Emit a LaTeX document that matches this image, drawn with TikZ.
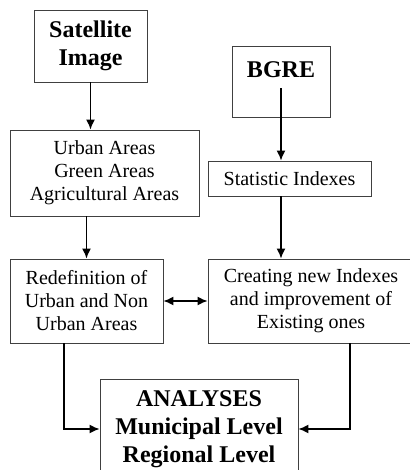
\documentclass[tikz,border=0pt]{standalone}
\usepackage{fontspec}
\setmainfont{Liberation Serif}
\usetikzlibrary{arrows.meta}
\begin{document}
\begin{tikzpicture}[x=1pt,y=-1pt,
  box/.style={draw=black!75, line width=0.8pt, inner sep=0pt, align=center, font=\fontsize{20}{23}\selectfont},
  bigbox/.style={box, font=\bfseries\fontsize{24}{28}\selectfont},
  link/.style={line width=1.6pt, -{Latex[length=10pt,width=9pt]}}]
  \useasboundingbox (0,0) rectangle (409,470);

  % left column
  \node[bigbox, minimum width=113pt, minimum height=72pt] (sat) at (90.5,46) {Satellite\\Image};
  \node[box, minimum width=189pt, minimum height=86pt] (urban) at (104.5,173) {Urban Areas\\Green Areas\\Agricultural Areas};
  \node[box, minimum width=153pt, minimum height=84pt] (redef) at (86.5,301) {Redefinition of\\Urban and Non\\Urban Areas};

  % right column
  \node[bigbox, minimum width=98pt, minimum height=71pt, text depth=23pt] (bgre) at (281,81.5) {BGRE};
  \node[box, minimum width=163pt, minimum height=35pt] (stat) at (289.5,178.5) {Statistic Indexes};
  \node[box, minimum width=206pt, minimum height=84pt] (create) at (311,301) {Creating new Indexes\\and improvement of\\Existing ones};

  % result
  \node[bigbox, minimum width=198pt, minimum height=100pt] (anl) at (199,429) {ANALYSES\\Municipal Level\\Regional Level};

  % down arrows
  \draw[link] (sat) -- (sat |- urban.north);
  \draw[link] (redef |- urban.south) -- (redef.north);
  \draw[link] ([yshift=-7pt]bgre.center) -- (bgre |- stat.north);
  \draw[link] (bgre |- stat.south) -- (bgre |- create.north);

  % both ways
  \draw[line width=1.6pt, {Latex[length=10pt,width=9pt]}-{Latex[length=10pt,width=9pt]}] (redef) -- (create);

  % into the analyses
  \draw[link] ([xshift=-22.5pt]redef.south) |- (anl.west);
  \draw[link] ([xshift=39pt]create.south) |- (anl.east);
\end{tikzpicture}
\end{document}
